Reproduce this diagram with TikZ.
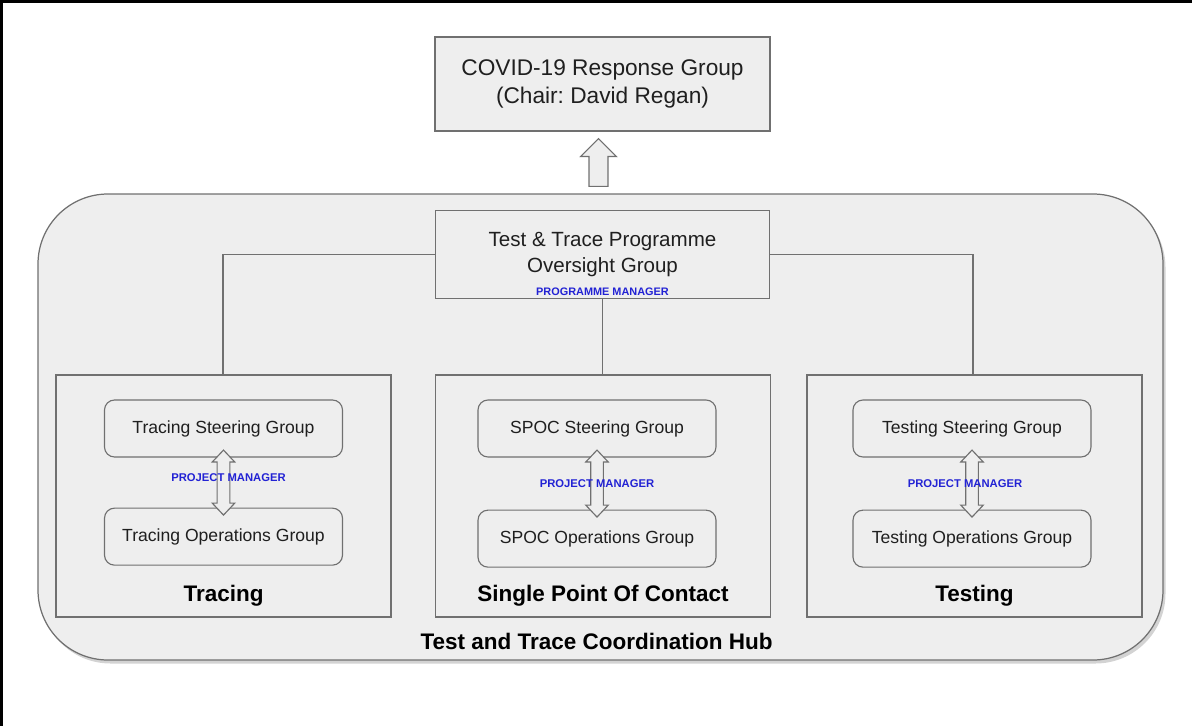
\documentclass[tikz,border=0pt]{standalone}
\usepackage{fontspec}
\setmainfont{Liberation Sans}
\usetikzlibrary{positioning, calc, shadows}
\definecolor{boxgray}{HTML}{EEEEEE}
\definecolor{edgegray}{HTML}{707070}
\definecolor{pmblue}{HTML}{2222D4}
\frenchspacing

% two-headed block arrow between a steering and an operations group
\newcommand{\twoway}[2]{%
  \draw[blockarrow] let \p1=($(#1.south)+(0,0.15)$), \p2=($(#2.north)+(0,-0.15)$) in
    (\p1) -- (\x1+6.4pt,\y1-6.8pt) -- (\x1+3.6pt,\y1-6.8pt) -- (\x1+3.6pt,\y2+6.8pt)
    -- (\x1+6.4pt,\y2+6.8pt) -- (\x1,\y2) -- (\x1-6.4pt,\y2+6.8pt) -- (\x1-3.6pt,\y2+6.8pt)
    -- (\x1-3.6pt,\y1-6.8pt) -- (\x1-6.4pt,\y1-6.8pt) -- cycle;}
% one-headed block arrow pointing up
\newcommand{\oneway}[2]{%
  \draw[blockarrow] let \p1=($(#1.north)+(-0.04,0.14)$), \p2=($(#2.south)+(0,-0.14)$) in
    (\x1-5.4pt,\y1) -- (\x1-5.4pt,\y2-10.2pt) -- (\x1-10.2pt,\y2-10.2pt) -- (\x1,\y2)
    -- (\x1+10.2pt,\y2-10.2pt) -- (\x1+5.4pt,\y2-10.2pt) -- (\x1+5.4pt,\y1) -- cycle;}

\begin{document}
\begin{tikzpicture}[
    text=black!88,
    hub/.style={draw=edgegray, fill=boxgray, line width=0.7pt, rounded corners=1.4cm, minimum width=22.5cm, minimum height=9.32cm, drop shadow={shadow xshift=0.05cm, shadow yshift=-0.07cm, opacity=0.35}},
    topbox/.style={draw=edgegray, fill=boxgray, line width=0.65pt, minimum width=6.7cm, minimum height=1.88cm, align=center, font=\fontsize{12.9}{15.9}\selectfont},
    overbox/.style={draw=edgegray, fill=boxgray, line width=0.65pt, minimum width=6.68cm, minimum height=1.76cm, align=center, font=\fontsize{11.7}{14.7}\selectfont},
    frame/.style={draw=edgegray, fill=boxgray, line width=0.65pt, minimum width=6.7cm, minimum height=4.84cm},
    subbox/.style={draw=edgegray, fill=boxgray, rounded corners=0.2cm, line width=0.65pt, minimum width=4.76cm, minimum height=1.14cm, font=\fontsize{10}{12}\selectfont},
    link/.style={draw=edgegray, line width=0.65pt},
    blockarrow/.style={draw=edgegray, fill=boxgray, line width=0.65pt, line join=miter},
    pmlabel/.style={text=pmblue, font=\bfseries\fontsize{6.4}{7.7}\selectfont},
    title/.style={font=\bfseries\fontsize{12.8}{15}\selectfont, anchor=base, text=black}
  ]
    \useasboundingbox (0,0) rectangle (23.84,-14.52);
    \draw[line width=0.06cm, black] (0.03,-14.52) -- (0.03,-0.03) -- (23.84,-0.03);

    % Hub
    \node[hub] (hub) at (12.01,-8.54) {};
    \node[title] (hubtitle) at ($(hub.south)+(-0.08,0.22)$) {Test and Trace Coordination Hub};

    % Top of the structure
    \node[topbox] (covid) at (12.05,-1.68) {COVID-19 Response Group\\(Chair: David Regan)};
    \node[overbox, below=1.56cm of covid] (oversight) {Test \& Trace Programme\\Oversight Group};
    \node[pmlabel, font=\bfseries\fontsize{6.2}{7.4}\selectfont, anchor=base] (overpm) at ($(oversight.south)+(0,0.07)$) {PROGRAMME MANAGER};
    \oneway{hub}{covid}

    % Work streams
    \node[frame] (tracing) at (4.47,-9.92) {};
    \node[frame] (spoc) at (12.06,-9.92) {};
    \node[frame] (testing) at (19.49,-9.92) {};

    \draw[link] (oversight.west) -| ([xshift=-0.01cm]tracing.north);
    \draw[link] (oversight.south) -- (oversight.south |- spoc.north);
    \draw[link] (oversight.east) -| ([xshift=-0.03cm]testing.north);

    % Tracing
    \node[subbox, below=0.5cm of tracing.north] (tsteer) {Tracing Steering Group};
    \node[subbox, below=1.0cm of tsteer] (tops) {Tracing Operations Group};
    \twoway{tsteer}{tops}
    \node[pmlabel] (tracingpm) at ($(tsteer.south)!0.5!(tops.north)+(0.1,0.09)$) {PROJECT MANAGER};
    \node[title] (tracingtitle) at ($(tracing.south)+(0,0.32)$) {Tracing};

    % Single point of contact
    \node[subbox, below=0.5cm of spoc.north, xshift=-0.12cm] (ssteer) {SPOC Steering Group};
    \node[subbox, below=1.04cm of ssteer] (sops) {SPOC Operations Group};
    \twoway{ssteer}{sops}
    \node[pmlabel] (spocpm) at ($(ssteer.south)!0.5!(sops.north)$) {PROJECT MANAGER};
    \node[title] (spoctitle) at ($(spoc.south)+(0,0.32)$) {Single Point Of Contact};

    % Testing
    \node[subbox, below=0.5cm of testing.north, xshift=-0.05cm] (esteer) {Testing Steering Group};
    \node[subbox, below=1.04cm of esteer] (eops) {Testing Operations Group};
    \twoway{esteer}{eops}
    \node[pmlabel] (testingpm) at ($(esteer.south)!0.5!(eops.north)+(-0.14,0)$) {PROJECT MANAGER};
    \node[title] (testingtitle) at ($(testing.south)+(0,0.32)$) {Testing};
  \end{tikzpicture}
\end{document}
